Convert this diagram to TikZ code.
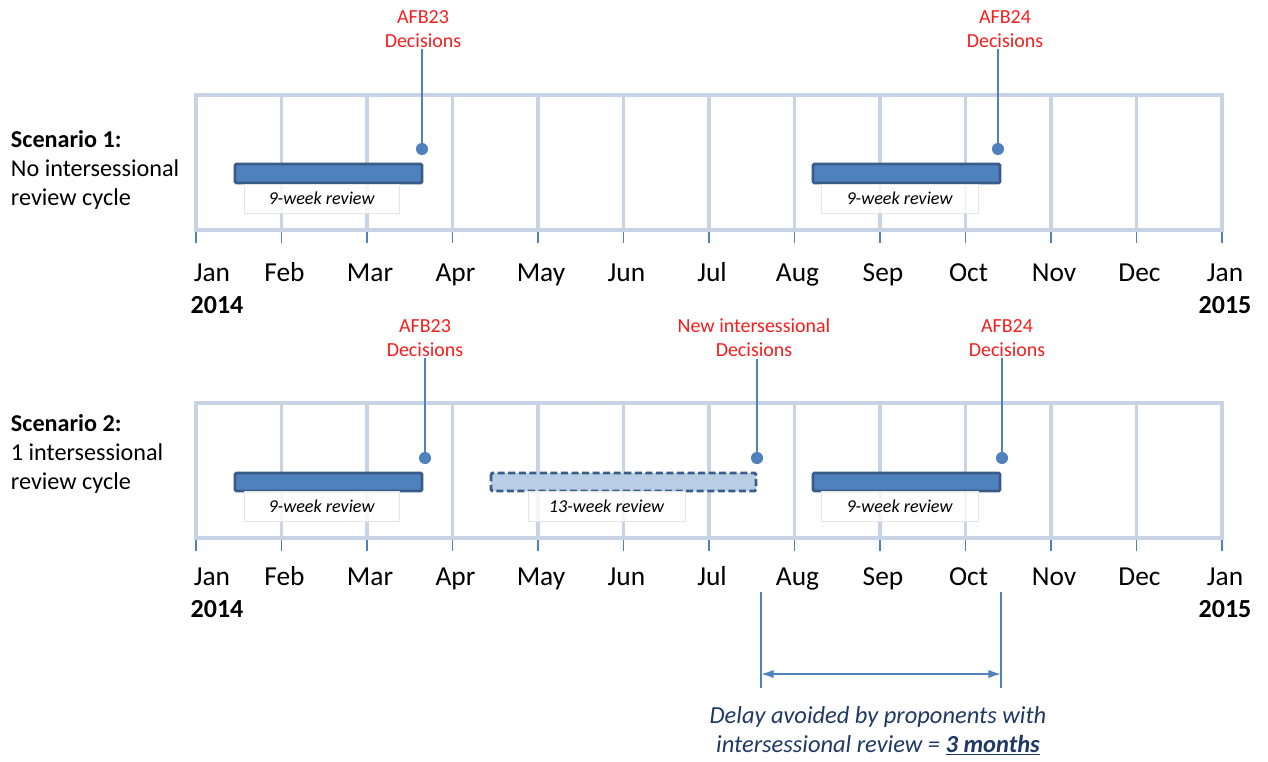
\documentclass[tikz,border=0pt]{standalone}
\usepackage{fontspec}
\setmainfont{Carlito}
\usetikzlibrary{arrows.meta}

\definecolor{gridblue}{RGB}{200,212,229}
\definecolor{barblue}{RGB}{79,129,189}
\definecolor{bardark}{RGB}{56,93,138}
\definecolor{barlight}{RGB}{185,205,229}
\definecolor{decred}{RGB}{245,30,30}
\definecolor{navy}{RGB}{31,56,100}

\tikzset{
  cell/.style={draw=gridblue, line width=2.6pt},
  tick/.style={draw=barblue, line width=1.1pt},
  monthlbl/.style={font=\fontsize{19.5}{22}\selectfont, text height=1.45ex, text depth=0.4ex},
  yearlbl/.style={font=\fontsize{18.5}{22}\selectfont\bfseries},
  scenario/.style={anchor=west, align=left, font=\fontsize{17.2}{20.3}\selectfont},
  decision/.style={text=decred, align=center, inner sep=1pt, font=\fontsize{14.2}{17}\selectfont},
  decdot/.style={circle, fill=barblue, inner sep=0pt, minimum size=8.6pt},
  decline/.style={draw=barblue, line width=1.4pt},
  reviewbar/.style={draw=bardark, fill=barblue, line width=2.1pt, rounded corners=1pt},
  newbar/.style={draw=bardark, fill=barlight, line width=2.1pt, dash pattern=on 5pt off 2.5pt, rounded corners=1pt},
  reviewlbl/.style={draw=black!10, fill=white, fill opacity=0.8, text opacity=1, inner sep=0pt,
    font=\fontsize{12.9}{14}\selectfont\itshape},
  delayline/.style={draw=barblue, line width=1.3pt},
}

\begin{document}
\begin{tikzpicture}[x=0.025cm, y=-0.025cm]
\useasboundingbox (0,0) rectangle (1268,762);

% Month grids, ticks and labels for both scenarios
\foreach \oy/\ly in {0/0, 308/304} {
  \foreach \m in {0,...,11}
    \draw[cell] ({196+85.5*\m},95+\oy) rectangle ({196+85.5*(\m+1)},230+\oy);
  \foreach \m in {0,...,12}
    \draw[tick] ({196+85.5*\m},232+\oy) -- ++(0,11);
  \node[monthlbl] at (212,278+\ly) {Jan};
  \foreach \name [count=\i] in {Feb,Mar,Apr,May,Jun,Jul,Aug,Sep,Oct,Nov,Dec,Jan}
    \node[monthlbl] at ({199+85.5*\i},278+\ly) {\name};
  \node[yearlbl] at (217,305+\ly) {2014};
  \node[yearlbl] at (1225,305+\ly) {2015};
}

% Scenario 1
\node[scenario] (scen1) at (6,170) {\textbf{Scenario 1:}\\No intersessional\\review cycle};

\draw[reviewbar] (235,164) rectangle (422,183);
\node[reviewlbl, minimum width=155*0.025cm, minimum height=29*0.025cm] (rev1a) at (321.5,198.5) {9-week review};
\draw[reviewbar] (813,164) rectangle (1000,183);
\node[reviewlbl, minimum width=157*0.025cm, minimum height=29*0.025cm] (rev1b) at (899.5,198.5) {9-week review};

\node[decision] (afb23a) at (423,29) {AFB23\\Decisions};
\node[decdot] (dot23a) at (422,149) {};
\draw[decline] (dot23a.center) -- (dot23a |- afb23a.south);

\node[decision] (afb24a) at (1005,29) {AFB24\\Decisions};
\node[decdot] (dot24a) at (998,149) {};
\draw[decline] (dot24a.center) -- (dot24a |- afb24a.south);

% Scenario 2
\node[scenario] (scen2) at (6,454) {\textbf{Scenario 2:}\\1 intersessional\\review cycle};

\draw[reviewbar] (235,473) rectangle (422,491);
\node[reviewlbl, minimum width=155*0.025cm, minimum height=30*0.025cm] (rev2a) at (321.5,506.5) {9-week review};
\draw[newbar] (491,473) rectangle (756,491);
\node[reviewlbl, minimum width=157*0.025cm, minimum height=30*0.025cm] (rev2n) at (606.5,506.5) {13-week review};
\draw[reviewbar] (813,473) rectangle (1000,491);
\node[reviewlbl, minimum width=157*0.025cm, minimum height=30*0.025cm] (rev2b) at (899.5,506.5) {9-week review};

\node[decision] (afb23b) at (425,338) {AFB23\\Decisions};
\node[decdot] (dot23b) at (425,458) {};
\draw[decline] (dot23b.center) -- (dot23b |- afb23b.south);

\node[decision] (newdec) at (754,338) {New intersessional\\Decisions};
\node[decdot] (dotnew) at (757,458) {};
\draw[decline] (dotnew.center) -- (dotnew |- newdec.south);

\node[decision] (afb24b) at (1007,338) {AFB24\\Decisions};
\node[decdot] (dot24b) at (1002,458) {};
\draw[decline] (dot24b.center) -- (dot24b |- afb24b.south);

% Delay avoided
\coordinate (gapLtop) at (761,592);
\coordinate (gapLbot) at (761,688);
\coordinate (gapRtop) at (1001,592);
\coordinate (gapRbot) at (1001,688);
\coordinate (armL) at (761,674);
\coordinate (armR) at (1001,674);
\draw[delayline] (gapLtop) -- (gapLbot);
\draw[delayline] (gapRtop) -- (gapRbot);
\draw[delayline, {Latex[length=9pt,width=6pt]}-{Latex[length=9pt,width=6pt]}] (armL) -- (armR);

\node[text=navy, align=center, font=\fontsize{17.4}{20}\selectfont\itshape] (delay) at (878,731)
  {Delay avoided by proponents with\\intersessional review = \underline{\textbf{3 months}}};

\end{tikzpicture}
\end{document}
